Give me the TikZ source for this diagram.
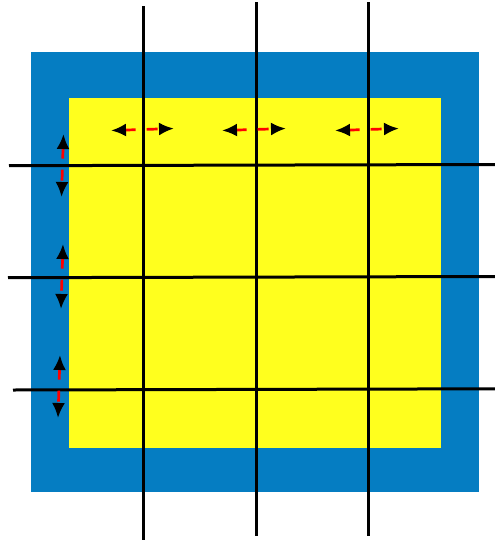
\documentclass[tikz,border=0pt]{standalone}
\usepackage{tikz}
\usetikzlibrary{arrows.meta}

\definecolor{outerblue}{RGB}{5,125,194}
\definecolor{inneryellow}{RGB}{255,255,30}

\begin{document}
\begin{tikzpicture}[
  x=1pt,y=-1pt,
  gridline/.style={line width=3pt,black},
  movearr/.style={{Latex[length=15pt,width=13pt,black]}-{Latex[length=15pt,width=13pt,black]},
    red,line width=2.7pt,dash pattern=on 11pt off 11pt}
]
\useasboundingbox (0,0) rectangle (495,542);

% -------------------------
% Domain: outer and inner square
% -------------------------
\fill[outerblue] (31,52) rectangle (479,492);
\fill[inneryellow] (69,98) rectangle (441,448);

% -------------------------
% Grid lines
% -------------------------
\coordinate (v1t) at (143.5,6);   \coordinate (v1b) at (143.5,540);
\coordinate (v2t) at (256.5,2);   \coordinate (v2b) at (256.5,536);
\coordinate (v3t) at (368.5,2);   \coordinate (v3b) at (368.5,536);
\coordinate (h1l) at (9,165.7); \coordinate (h1r) at (495,164.5);
\coordinate (h2l) at (8,277.7); \coordinate (h2r) at (495,276.5);
\coordinate (h3l) at (13,390);  \coordinate (h3r) at (495,388.8);

\draw[gridline] (v1t) -- (v1b);
\draw[gridline] (v2t) -- (v2b);
\draw[gridline] (v3t) -- (v3b);
\draw[gridline] (h1l) -- (h1r);
\draw[gridline] (h2l) -- (h2r);
\draw[gridline] (h3l) -- (h3r);

% -------------------------
% Arrows along the top row
% -------------------------
\coordinate (t1a) at (111,130.5); \coordinate (t1b) at (174,128.5);
\coordinate (t2a) at (222,130.5); \coordinate (t2b) at (286,128.5);
\coordinate (t3a) at (335,130.5); \coordinate (t3b) at (399,128.5);

\draw[movearr] (t1a) -- (t1b);
\draw[movearr] (t2a) -- (t2b);
\draw[movearr] (t3a) -- (t3b);

% -------------------------
% Arrows along the left column
% -------------------------
\coordinate (l1a) at (63.5,134); \coordinate (l1b) at (61.5,197);
\coordinate (l2a) at (63,244);   \coordinate (l2b) at (61,309);
\coordinate (l3a) at (60,355);   \coordinate (l3b) at (58,418);

\draw[movearr] (l1a) -- (l1b);
\draw[movearr] (l2a) -- (l2b);
\draw[movearr] (l3a) -- (l3b);

\end{tikzpicture}
\end{document}
